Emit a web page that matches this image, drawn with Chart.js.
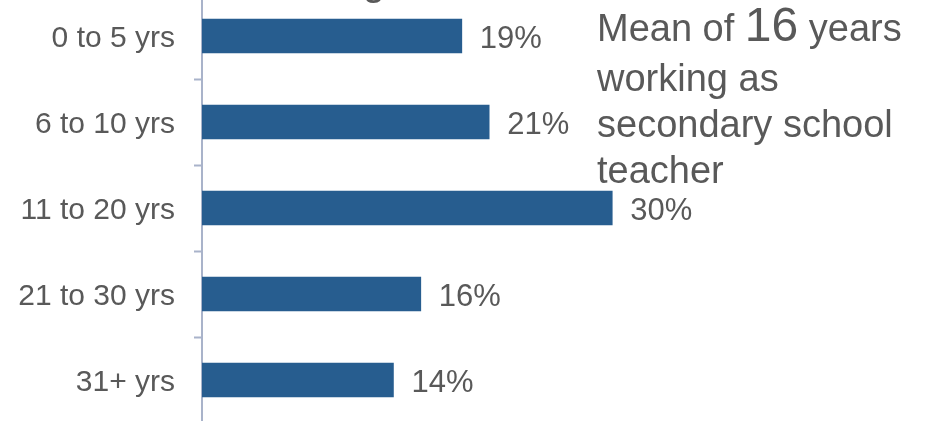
<!DOCTYPE html>
<html>
<head>
<meta charset="utf-8">
<title>Years teaching</title>
<script src="https://cdn.jsdelivr.net/npm/chart.js@4/dist/chart.umd.min.js"></script>
<style>
  html, body { margin: 0; padding: 0; background: #fff; overflow: hidden; }
  #wrap { position: absolute; left: 0; top: -7px; width: 928px; height: 430px; }
</style>
</head>
<body>
<div id="wrap"><canvas id="yearsChart"></canvas></div>
<script>
const categories = ['0 to 5 yrs', '6 to 10 yrs', '11 to 20 yrs', '21 to 30 yrs', '31+ yrs'];
const shares = [19, 21, 30, 16, 14];
const meanYears = 16;
const titleText = 'Years teaching';

const textColor = '#595959';
const fontFamily = '"Liberation Sans", Arial, sans-serif';

// percentage label just past the end of each bar
const valueLabels = {
    id: 'valueLabels',
    afterDatasetsDraw(chart) {
        const ctx = chart.ctx;
        const meta = chart.getDatasetMeta(0);
        ctx.save();
        ctx.font = '31px ' + fontFamily;
        ctx.fillStyle = textColor;
        ctx.textAlign = 'left';
        ctx.textBaseline = 'middle';
        meta.data.forEach((bar, i) => {
            ctx.fillText(shares[i] + '%', bar.x + 18, bar.y + 3);
        });
        ctx.restore();
    }
};

// mean note on the right and the title above the plot
const notes = {
    id: 'notes',
    afterDraw(chart) {
        const ctx = chart.ctx;
        ctx.save();
        ctx.fillStyle = textColor;
        ctx.textBaseline = 'alphabetic';

        ctx.font = '40px ' + fontFamily;
        ctx.textAlign = 'right';
        ctx.fillText(titleText, 385, 2);

        ctx.textAlign = 'left';
        const x0 = 597;
        let x = x0;
        ctx.font = '38px ' + fontFamily;
        ctx.fillText('Mean of ', x, 48);
        x += ctx.measureText('Mean of ').width;
        ctx.font = '48px ' + fontFamily;
        ctx.fillText(String(meanYears), x, 48);
        x += ctx.measureText(String(meanYears)).width;
        ctx.font = '38px ' + fontFamily;
        ctx.fillText(' years', x, 48);

        ctx.fillText('working as', x0, 98);
        ctx.fillText('secondary school', x0, 144);
        ctx.fillText('teacher', x0, 190);
        ctx.restore();
    }
};

new Chart(document.getElementById('yearsChart'), {
    type: 'bar',
    data: {
        labels: categories,
        datasets: [{
            data: shares,
            backgroundColor: '#275D8F',
            borderWidth: 0,
            barThickness: 34
        }]
    },
    options: {
        indexAxis: 'y',
        responsive: true,
        maintainAspectRatio: false,
        animation: false,
        layout: { padding: { left: 0, right: 179, top: 0, bottom: 0 } },
        plugins: {
            legend: { display: false },
            tooltip: { enabled: false },
            title: { display: false }
        },
        scales: {
            x: {
                display: false,
                min: 0,
                max: 40
            },
            y: {
                afterFit(scale) {
                    scale.width = 202;
                    scale.paddingTop = 0;
                    scale.paddingBottom = 0;
                },
                border: { display: true, color: '#A9B3CA', width: 2 },
                grid: {
                    offset: true,
                    drawOnChartArea: false,
                    drawTicks: true,
                    tickLength: 8,
                    tickWidth: 2,
                    tickColor: '#A9B3CA'
                },
                ticks: {
                    padding: 19,
                    labelOffset: 3,
                    color: textColor,
                    font: { size: 30, family: fontFamily }
                }
            }
        }
    },
    plugins: [valueLabels, notes]
});
</script>
</body>
</html>
